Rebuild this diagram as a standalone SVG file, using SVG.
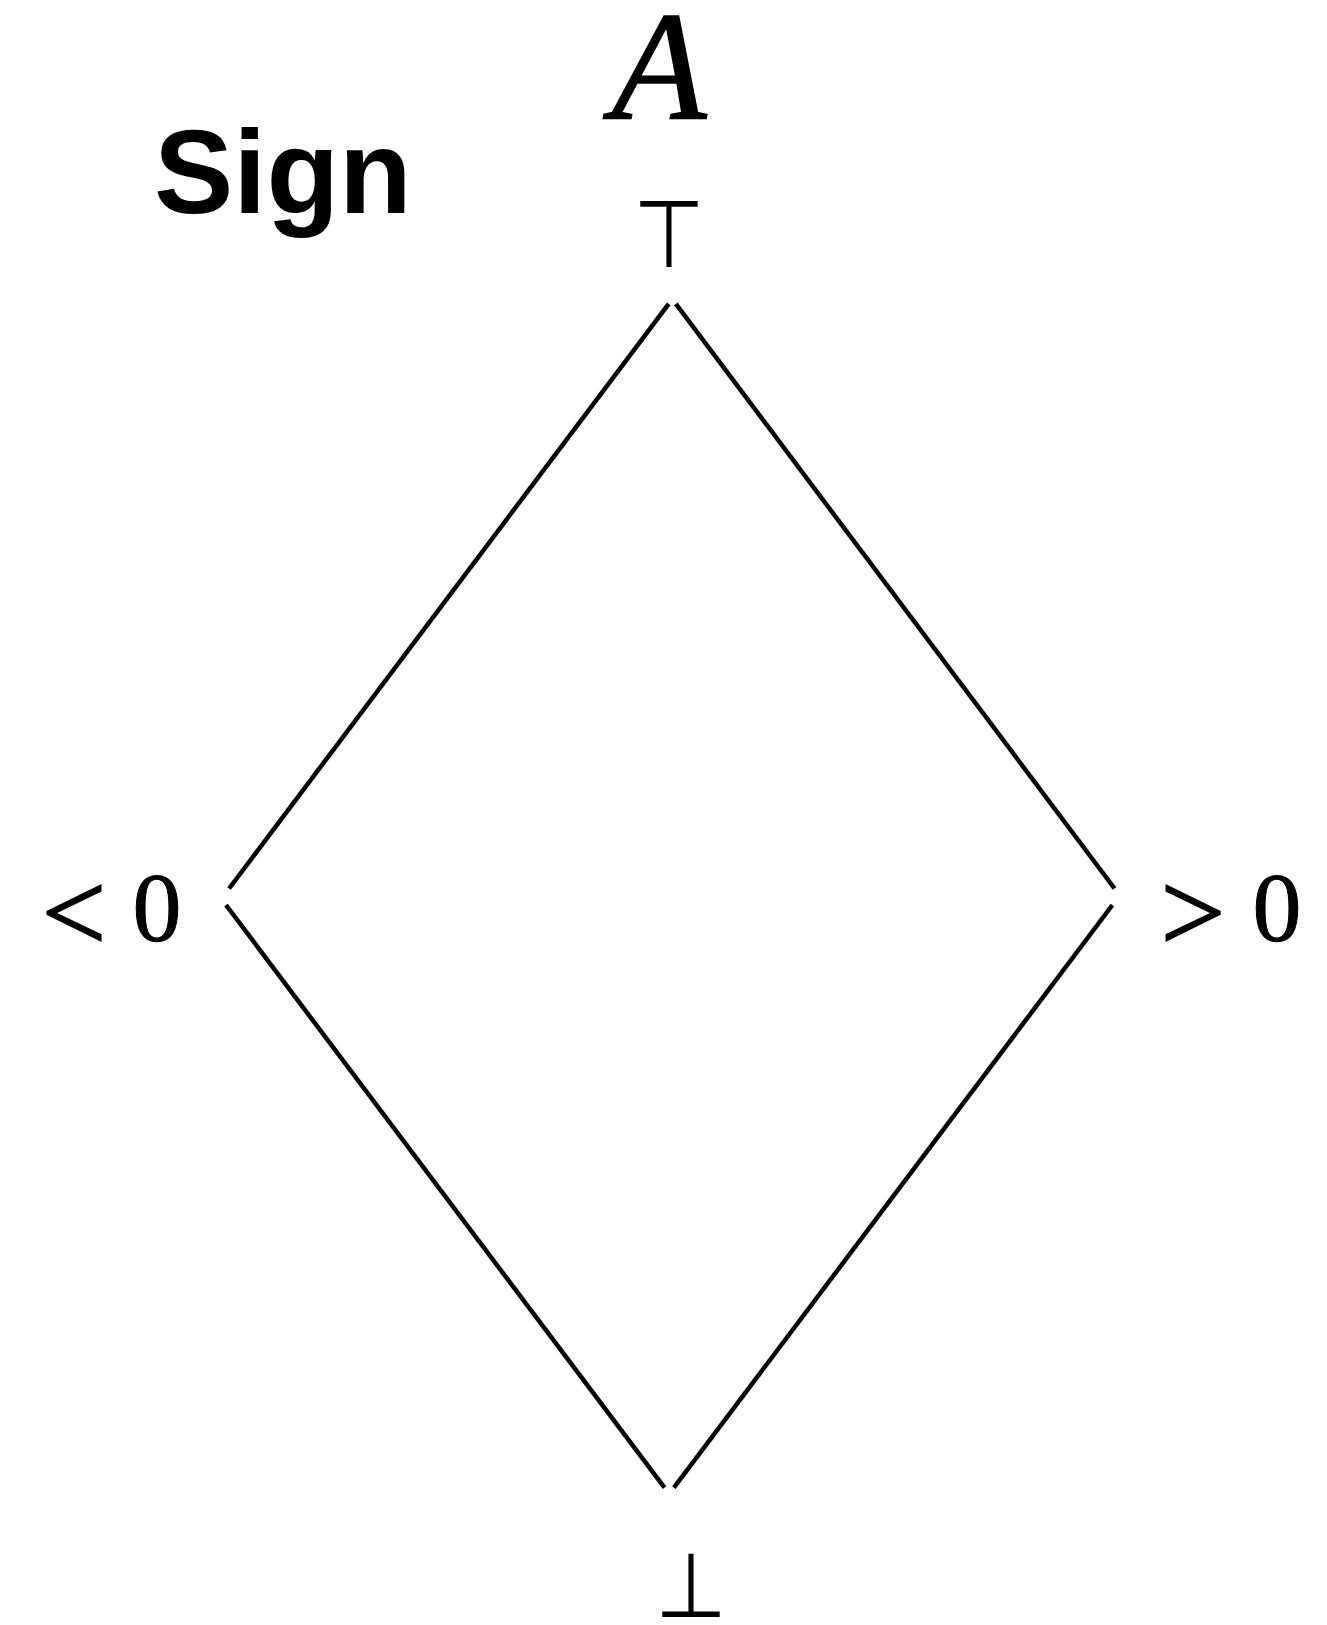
<svg xmlns="http://www.w3.org/2000/svg" width="1327" height="1625" viewBox="0 0 1327 1625">
<style>
.edge{stroke:#000;stroke-width:4.5;fill:none}
.math{font-family:"Liberation Serif",serif;fill:#000;stroke:#000}
.sym{font-family:"DejaVu Sans",sans-serif;fill:#000}
</style>
<rect width="1327" height="1625" fill="#fff"/>
<g id="title"><text x="154" y="213" font-family="Liberation Sans,Arial,sans-serif" font-weight="bold" font-size="119">Sign</text></g>
<g id="lattice-name"><text class="math" x="659" y="118" font-size="155" font-style="italic" stroke-width="1.5" text-anchor="middle">A</text></g>
<g id="top"><text class="sym" font-size="82" text-anchor="middle" transform="translate(669,267) scale(1,1.15)">⊤</text></g>
<g id="neg"><text class="math" x="74" y="951" font-size="115" stroke-width="1.6" text-anchor="middle">&lt;</text><text class="math" x="157" y="940" font-size="98" stroke-width="1" text-anchor="middle">0</text></g>
<g id="pos"><text class="math" x="1193" y="951" font-size="115" stroke-width="1.6" text-anchor="middle">&gt;</text><text class="math" x="1277" y="940" font-size="98" stroke-width="1" text-anchor="middle">0</text></g>
<g id="bottom"><text class="sym" font-size="82" text-anchor="middle" transform="translate(691,1617) scale(1,1.1)">⊥</text></g>
<g id="connectors">
<line class="edge" x1="668.7" y1="303.8" x2="229.1" y2="888.5"/>
<line class="edge" x1="675.9" y1="303.8" x2="1114.5" y2="888.5"/>
<line class="edge" x1="226" y1="905" x2="664.5" y2="1487.7"/>
<line class="edge" x1="1112.4" y1="905" x2="673.9" y2="1487.7"/>
</g>
</svg>
